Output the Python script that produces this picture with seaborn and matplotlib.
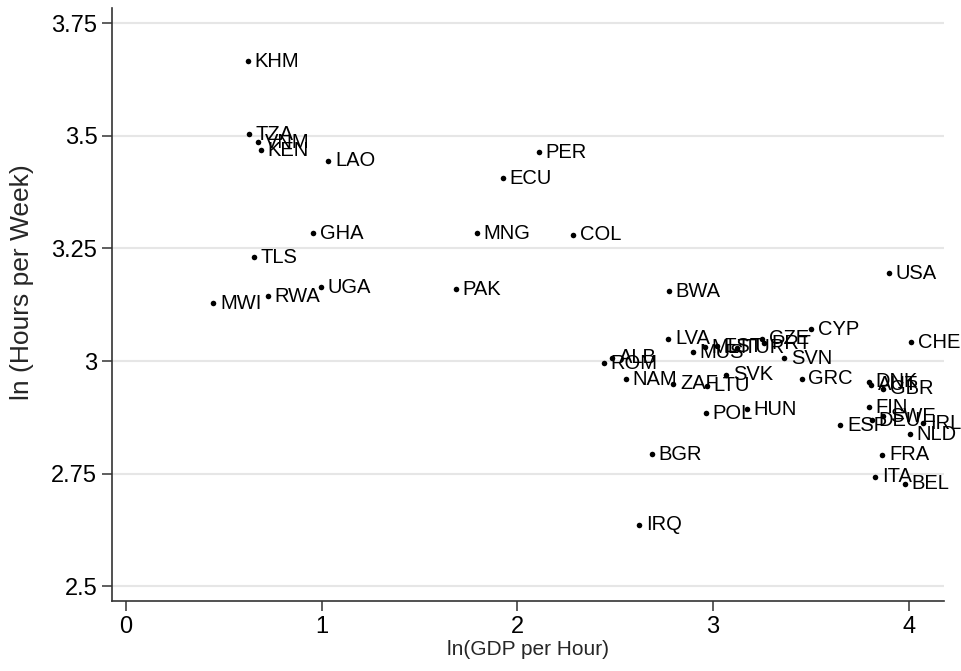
import matplotlib
matplotlib.use("Agg")
import matplotlib.pyplot as plt
import seaborn as sns
import pandas as pd

#Datos
paises = ["KHM", "TZA", "VNM", "KEN", "LAO", "PER", "ECU", "GHA", "MNG", "COL",
          "TLS", "USA", "UGA", "PAK", "RWA", "MWI", "BWA", "LVA", "CZE", "CYP",
          "MLT", "EST", "TUR", "MUS", "PRT", "SVN", "ALB", "ROM", "NAM", "ZAF",
          "LTU", "SVK", "GRC", "POL", "HUN", "BGR", "IRQ", "CHE", "DNK", "AUT",
          "GBR", "FIN", "SWE", "DEU", "IRL", "ESP", "NLD", "FRA", "ITA", "BEL"]

ln_gdp_hora = [0.623, 0.628, 0.676, 0.688, 1.033, 2.110, 1.926, 0.955, 1.793, 2.284,
               0.654, 3.899, 0.995, 1.686, 0.724, 0.446, 2.774, 2.770, 3.248, 3.499,
               2.958, 3.019, 3.121, 2.895, 3.261, 3.363, 2.486, 2.442, 2.554, 2.796,
               2.967, 3.065, 3.452, 2.963, 3.171, 2.686, 2.622, 4.010, 3.796, 3.806,
               3.869, 3.796, 3.867, 3.810, 4.073, 3.651, 4.005, 3.864, 3.826, 3.980]

ln_horas_semana = [3.666, 3.504, 3.486, 3.468, 3.445, 3.464, 3.406, 3.284, 3.284, 3.280,
                   3.231, 3.195, 3.164, 3.160, 3.144, 3.128, 3.155, 3.050, 3.050, 3.071,
                   3.031, 3.033, 3.030, 3.020, 3.039, 3.006, 3.007, 2.995, 2.960, 2.950,
                   2.945, 2.969, 2.961, 2.884, 2.893, 2.793, 2.636, 3.042, 2.954, 2.947,
                   2.939, 2.897, 2.877, 2.869, 2.862, 2.857, 2.837, 2.792, 2.743, 2.727]

ticks_x = [0, 1, 2, 3, 4]
ticks_y = [2.5, 2.75, 3, 3.25, 3.5, 3.75]
etiquetas_y = ["2.5", "2.75", "3", "3.25", "3.5", "3.75"]

df = pd.DataFrame({"pais": paises, "gdp": ln_gdp_hora, "horas": ln_horas_semana})

sns.set_style("white")
plt.rcParams["font.family"] = ["Liberation Sans", "DejaVu Sans"]

#figura
fig = plt.figure(figsize=(9.61, 6.71), dpi=100)
ax = fig.add_axes([0.1165, 0.1043, 0.8658, 0.8837])

sns.scatterplot(data=df, x="gdp", y="horas", color="black", s=16, linewidth=0, ax=ax, zorder=3)

for i, fila in df.iterrows():
    ax.annotate(fila["pais"], (fila["gdp"], fila["horas"]), xytext=(5, 0),
                textcoords="offset points", va="center", ha="left", fontsize=14.5, color="black")

ax.set_xlim(-0.0715, 4.18)
ax.set_ylim(2.467, 3.784)
ax.set_xticks(ticks_x)
ax.set_yticks(ticks_y)
ax.set_yticklabels(etiquetas_y)
ax.yaxis.grid(True, color="#e6e6e6", linewidth=1.5)
ax.set_axisbelow(True)

for lado in ["top", "right"]:
    ax.spines[lado].set_visible(False)
for lado in ["left", "bottom"]:
    ax.spines[lado].set_color("#333333")
    ax.spines[lado].set_linewidth(1.2)

ax.tick_params(axis="both", direction="out", length=7, width=1.1, color="#333333",
               labelsize=17, labelcolor="black", left=True, bottom=True)
ax.set_xlabel("ln(GDP per Hour)", fontsize=15, labelpad=2)
ax.set_ylabel("ln (Hours per Week)", fontsize=19, va="center")
ax.yaxis.set_label_coords(-0.108, 0.538)

plt.savefig("out.png", dpi=100)
